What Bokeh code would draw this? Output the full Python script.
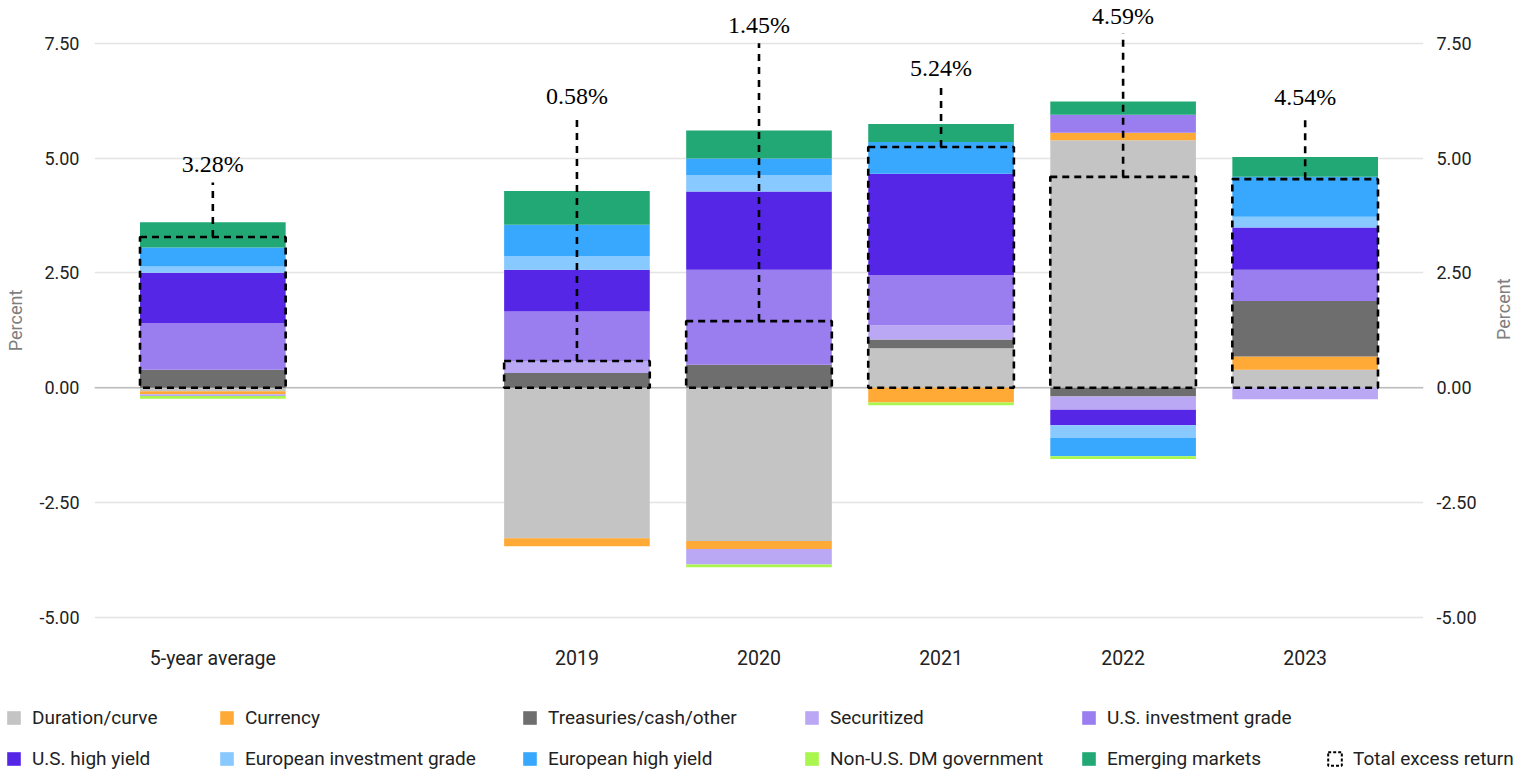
import math
from bokeh.plotting import figure
from bokeh.layouts import column, row
from bokeh.models import (ColumnDataSource, FactorRange, Range1d, FixedTicker,
                          PrintfTickFormatter, LinearAxis, Span, Legend, LegendItem)
from bokeh.core.properties import value
from bokeh.embed import file_html
from bokeh.resources import INLINE

# ---------------- data ----------------
categories = ["5-year average", "2019", "2020", "2021", "2022", "2023"]

series_names = ["Duration/curve", "Currency", "Treasuries/cash/other", "Securitized",
                "U.S. investment grade", "U.S. high yield", "European investment grade",
                "European high yield", "Non-U.S. DM government", "Emerging markets"]

duration_curve   = [-0.08, -3.28, -3.34, 0.86, 5.39, 0.39]
currency         = [-0.06, -0.17, -0.17, -0.32, 0.16, 0.29]
treasuries_cash  = [0.39, 0.32, 0.50, 0.19, -0.19, 1.21]
securitized      = [-0.04, 0.25, -0.34, 0.31, -0.29, -0.25]
us_inv_grade     = [1.02, 1.09, 2.07, 1.09, 0.39, 0.68]
us_high_yield    = [1.09, 0.91, 1.70, 2.21, -0.34, 0.92]
eur_inv_grade    = [0.14, 0.30, 0.36, 0.00, -0.27, 0.23]
eur_high_yield   = [0.41, 0.68, 0.36, 0.69, -0.40, 0.87]
non_us_dm_govt   = [-0.06, 0.00, -0.06, -0.06, -0.06, 0.00]
emerging_markets = [0.55, 0.73, 0.61, 0.39, 0.29, 0.43]

total_excess_return = [3.28, 0.58, 1.45, 5.24, 4.59, 4.54]

y_ticks = [-5.0, -2.5, 0.0, 2.5, 5.0, 7.5]

# ---------------- styling ----------------
colors = ["#c4c4c4", "#ffaa37", "#6e6e6e", "#baa8f5", "#9a7ef0",
          "#5526e6", "#88c9ff", "#38a8ff", "#a9f64f", "#21a874"]
label_pos = [4.86, 6.35, 7.89, 6.95, 8.10, 6.32]   # where the total labels sit
label_gap = 0.39
spacer = " "
AX_FONT = "Roboto"
TXT = "#222222"

series_values = [duration_curve, currency, treasuries_cash, securitized, us_inv_grade,
                 us_high_yield, eur_inv_grade, eur_high_yield, non_us_dm_govt,
                 emerging_markets]

p = figure(width=1490, height=680,
           x_range=FactorRange(factors=[categories[0], spacer] + categories[1:],
                               range_padding=0.15, range_padding_units="absolute"),
           y_range=Range1d(-5.504, 8.430),
           output_backend="svg", toolbar_location=None,
           min_border_left=94, min_border_right=67, min_border_top=0, min_border_bottom=40)
p.outline_line_color = None
p.xgrid.grid_line_color = None
p.ygrid.ticker = FixedTicker(ticks=y_ticks)
p.ygrid.grid_line_color = "#e4e4e4"
p.ygrid.grid_line_width = 1.5

p.add_layout(Span(location=0, dimension="width", line_color="#bdbdbd",
                  line_width=1.5, level="underlay"))

# stacked bars (positive stack upward, negative stack downward)
pos_base = [0.0] * len(categories)
neg_base = [0.0] * len(categories)
for name, vals, col in zip(series_names, series_values, colors):
    bottoms, tops = [], []
    for i, v in enumerate(vals):
        if v >= 0:
            bottoms.append(pos_base[i]); tops.append(pos_base[i] + v); pos_base[i] += v
        else:
            tops.append(neg_base[i]); bottoms.append(neg_base[i] + v); neg_base[i] += v
    src = ColumnDataSource(dict(x=categories, top=tops, bottom=bottoms))
    p.vbar(x="x", top="top", bottom="bottom", width=0.8, source=src,
           fill_color=col, line_color=None)

# total excess return boxes
box_style = dict(fill_color=None, line_color="black", line_width=2.6, line_dash="7 5")
tsrc = ColumnDataSource(dict(x=categories, top=total_excess_return,
                             bottom=[0.0] * len(categories),
                             ly=label_pos,
                             ly0=[lp - label_gap for lp in label_pos],
                             txt=[f"{t:.2f}%" for t in total_excess_return]))
p.vbar(x="x", top="top", bottom="bottom", width=0.8, source=tsrc, **box_style)
p.segment(x0="x", y0="top", x1="x", y1="ly0", source=tsrc,
          line_color="black", line_width=2.6, line_dash="7 6")
p.text(x="x", y="ly", text="txt", source=tsrc, text_align="center",
       text_baseline="middle", text_font=value("Liberation Serif"),
       text_font_size="24px", text_color="black")

# axes
def style_y(ax, standoff):
    ax.ticker = FixedTicker(ticks=y_ticks)
    ax.formatter = PrintfTickFormatter(format="%.2f")
    ax.axis_line_color = None
    ax.major_tick_line_color = None
    ax.minor_tick_line_color = None
    ax.major_label_text_font = AX_FONT
    ax.major_label_text_font_size = "18px"
    ax.major_label_text_color = TXT
    ax.major_label_standoff = standoff

ly_ax = p.yaxis[0]
style_y(ly_ax, 9)
ly_ax.axis_label = "Percent"
ly_ax.axis_label_text_font = AX_FONT
ly_ax.axis_label_text_font_size = "18px"
ly_ax.axis_label_text_font_style = "normal"
ly_ax.axis_label_text_color = "#7f7f7f"
ly_ax.axis_label_standoff = 10

right_ax = LinearAxis()
style_y(right_ax, 7)
p.add_layout(right_ax, "right")

xa = p.xaxis[0]
xa.axis_line_color = None
xa.major_tick_line_color = None
xa.minor_tick_line_color = None
xa.major_label_text_font = AX_FONT
xa.major_label_text_font_size = "19.5px"
xa.major_label_text_color = TXT
xa.major_label_standoff = 0

# right-hand axis title (reads bottom to top, like the left one)
rl = figure(width=26, height=680, x_range=Range1d(0, 26), y_range=Range1d(0, 680),
            output_backend="svg", toolbar_location=None, x_axis_location=None,
            y_axis_location=None, min_border=0)
rl.outline_line_color = None
rl.grid.grid_line_color = None
rl.text(x=[13], y=[352], text=["Percent"], angle=math.pi / 2, text_align="center",
        text_baseline="middle", text_font=value(AX_FONT), text_font_size="18px",
        text_color="#7f7f7f")

# legend figure (swatch renderers sit outside its visible range)
lf = figure(width=1528, height=91, x_range=Range1d(0, 1), y_range=Range1d(0, 1),
            output_backend="svg", toolbar_location=None, x_axis_location=None,
            y_axis_location=None, min_border=0)
lf.outline_line_color = None
lf.grid.grid_line_color = None
items = []
for name, col in zip(series_names, colors):
    r = lf.vbar(x=[-5], top=[-5], bottom=[-6], width=0.8, fill_color=col, line_color=None)
    items.append(LegendItem(label=name, renderers=[r]))
tr = lf.vbar(x=[-5], top=[-5], bottom=[-6], width=0.8, fill_color=None,
             line_color="black", line_width=2, line_dash="3 2")
total_item = LegendItem(label="Total excess return", renderers=[tr])

legend_cols = [
    (5, [items[0], items[5]]),
    (218, [items[1], items[6]]),
    (521, [items[2], items[7]]),
    (803, [items[3], items[8]]),
    (1080, [items[4], items[9]]),
    (1326, [total_item]),
]
for vx, its in legend_cols:
    lg = Legend(items=its, location=(vx, 1), orientation="vertical",
                glyph_width=17, glyph_height=17, label_height=14, label_standoff=10,
                spacing=18, padding=0, margin=0, border_line_color=None,
                background_fill_alpha=0, label_text_font=AX_FONT,
                label_text_font_size="19px", label_text_color=TXT)
    lf.add_layout(lg)

layout = column(row(p, rl), lf)
open("out.html", "w").write(file_html(layout, INLINE))
